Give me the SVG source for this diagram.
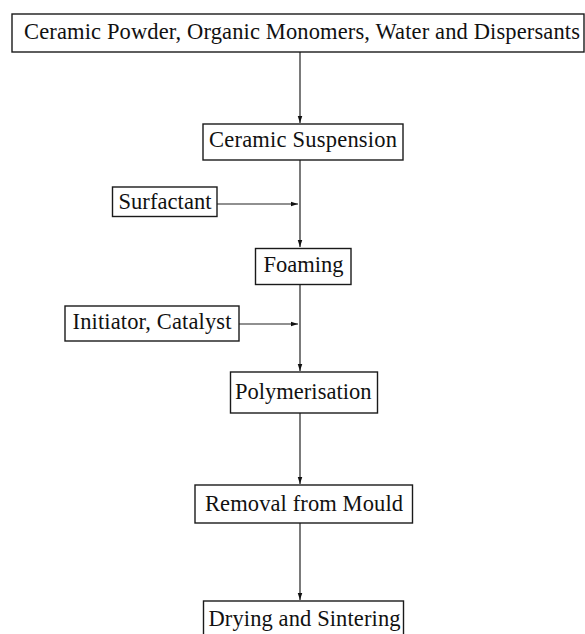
<svg xmlns="http://www.w3.org/2000/svg" width="585" height="634" viewBox="0 0 585 634">
<defs>
<style>
.box{fill:#fff;stroke:#1a1a1a;stroke-width:1.4}
.t{font-family:"Liberation Serif","Times New Roman",serif;font-size:22.5px;fill:#111}
.ln{stroke:#222;stroke-width:1.2;fill:none}
</style>
<marker id="ah" markerWidth="8" markerHeight="6" refX="7.5" refY="3" orient="auto" markerUnits="userSpaceOnUse">
<path d="M0,0.6 L7.5,3 L0,5.4 Z" fill="#111"/>
</marker>
</defs>
<rect width="585" height="634" fill="#fff"/>
<g id="connectors">
<line class="ln" x1="300" y1="52" x2="300" y2="123" marker-end="url(#ah)"/>
<line class="ln" x1="300" y1="160" x2="300" y2="247" marker-end="url(#ah)"/>
<line class="ln" x1="217" y1="204" x2="298" y2="204" marker-end="url(#ah)"/>
<line class="ln" x1="300" y1="284" x2="300" y2="371" marker-end="url(#ah)"/>
<line class="ln" x1="239" y1="324" x2="298" y2="324" marker-end="url(#ah)"/>
<line class="ln" x1="300" y1="413" x2="300" y2="484" marker-end="url(#ah)"/>
<line class="ln" x1="300" y1="523" x2="300" y2="600" marker-end="url(#ah)"/>
</g>
<g id="n-inputs">
<rect class="box" x="12" y="14" width="572" height="38"/>
<text class="t" x="24" y="39" textLength="556">Ceramic Powder, Organic Monomers, Water and Dispersants</text>
</g>
<g id="n-suspension">
<rect class="box" x="203" y="124" width="200" height="36"/>
<text class="t" x="209" y="147" textLength="188">Ceramic Suspension</text>
</g>
<g id="n-surfactant">
<rect class="box" x="112.5" y="187" width="104.5" height="29.5"/>
<text class="t" x="118.5" y="208.5" textLength="93">Surfactant</text>
</g>
<g id="n-foaming">
<rect class="box" x="255.5" y="248.5" width="95.5" height="36"/>
<text class="t" x="263.5" y="272" textLength="80">Foaming</text>
</g>
<g id="n-initiator">
<rect class="box" x="65" y="306" width="174" height="35"/>
<text class="t" x="72.5" y="328.5" textLength="159">Initiator, Catalyst</text>
</g>
<g id="n-polymerisation">
<rect class="box" x="230.5" y="372" width="147" height="41"/>
<text class="t" x="235" y="398.5" textLength="136.5">Polymerisation</text>
</g>
<g id="n-removal">
<rect class="box" x="195" y="485" width="217.5" height="38"/>
<text class="t" x="205" y="510.5" textLength="198">Removal from Mould</text>
</g>
<g id="n-drying">
<rect class="box" x="203.5" y="601" width="200" height="40"/>
<text class="t" x="208.5" y="625.5" textLength="192">Drying and Sintering</text>
</g>
</svg>
